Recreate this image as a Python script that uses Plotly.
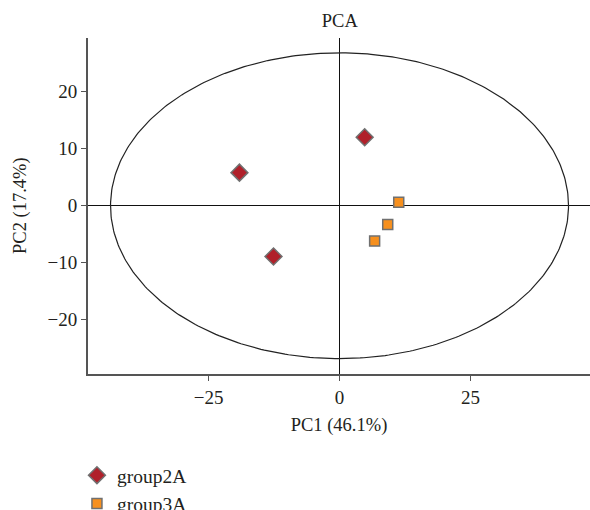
import numpy as np
import plotly.graph_objects as go

# Data
group2A_pc1 = [-19.1, -12.6, 4.8]
group2A_pc2 = [5.8, -8.9, 12.0]
group3A_pc1 = [11.3, 9.2, 6.7]
group3A_pc2 = [0.6, -3.3, -6.2]
ellipse_center = [0.0, 0.0]
ellipse_radii = [43.7, 26.8]
x_ticks = [-25, 0, 25]
x_tick_text = ["\u221225", "0", "25"]
y_ticks = [-20, -10, 0, 10, 20]
y_tick_text = ["\u221220", "\u221210", "0", "10", "20"]

FONT = "Liberation Serif, Times New Roman, serif"
TXT = "#231f20"

t = np.linspace(0, 2 * np.pi, 400)
ex = ellipse_center[0] + ellipse_radii[0] * np.cos(t)
ey = ellipse_center[1] + ellipse_radii[1] * np.sin(t)

fig = go.Figure()
fig.add_trace(go.Scatter(x=ex, y=ey, mode="lines", line=dict(color="#222222", width=1.2),
                         showlegend=False, hoverinfo="skip"))
fig.add_trace(go.Scatter(x=group2A_pc1, y=group2A_pc2, mode="markers", name="group2A",
                         marker=dict(symbol="diamond", size=13, color="#B0202A",
                                     line=dict(color="#707070", width=1.5))))
fig.add_trace(go.Scatter(x=group3A_pc1, y=group3A_pc2, mode="markers", name="group3A",
                         marker=dict(symbol="square", size=10, color="#F7901E",
                                     line=dict(color="#707070", width=1.5))))

fig.update_layout(
    width=590, height=522,
    margin=dict(l=88, r=0, t=38, b=148, autoexpand=False),
    paper_bgcolor="white", plot_bgcolor="white",
    font=dict(family=FONT, size=19, color=TXT),
    title=dict(text="PCA", x=0.576, xanchor="center", y=1 - 21 / 522, yanchor="middle",
               font=dict(family=FONT, size=18.5, color=TXT)),
    showlegend=True,
    legend=dict(x=-0.022, xanchor="left", y=-0.244, yanchor="top", orientation="v",
                font=dict(family=FONT, size=19.5, color=TXT), bgcolor="rgba(0,0,0,0)"),
    annotations=[dict(text="PC2 (17.4%)", textangle=-90, x=0, xref="paper", y=0.5,
                      yref="paper", xanchor="center", yanchor="middle", xshift=-68,
                      showarrow=False, font=dict(family=FONT, size=18.5, color=TXT))],
)
fig.update_xaxes(range=[-48.0, 47.8], tickvals=x_ticks, ticktext=x_tick_text,
                 showgrid=False, zeroline=True, zerolinecolor="#111111", zerolinewidth=1,
                 showline=True, linecolor="#555555", linewidth=2, mirror=False,
                 ticks="outside", ticklen=5, tickcolor="#555555", automargin=False,
                 title=dict(text="PC1 (46.1%)", standoff=11, font=dict(size=18.5)))
fig.update_yaxes(range=[-29.5, 29.4], tickvals=y_ticks, ticktext=y_tick_text,
                 showgrid=False, zeroline=True, zerolinecolor="#111111", zerolinewidth=1,
                 showline=True, linecolor="#555555", linewidth=2, mirror=False,
                 ticks="outside", ticklen=5, tickcolor="#555555", automargin=False)

fig.write_html("out.html", config={"displayModeBar": False},
               post_script="document.body.style.margin='0px';document.body.style.overflow='hidden';")
